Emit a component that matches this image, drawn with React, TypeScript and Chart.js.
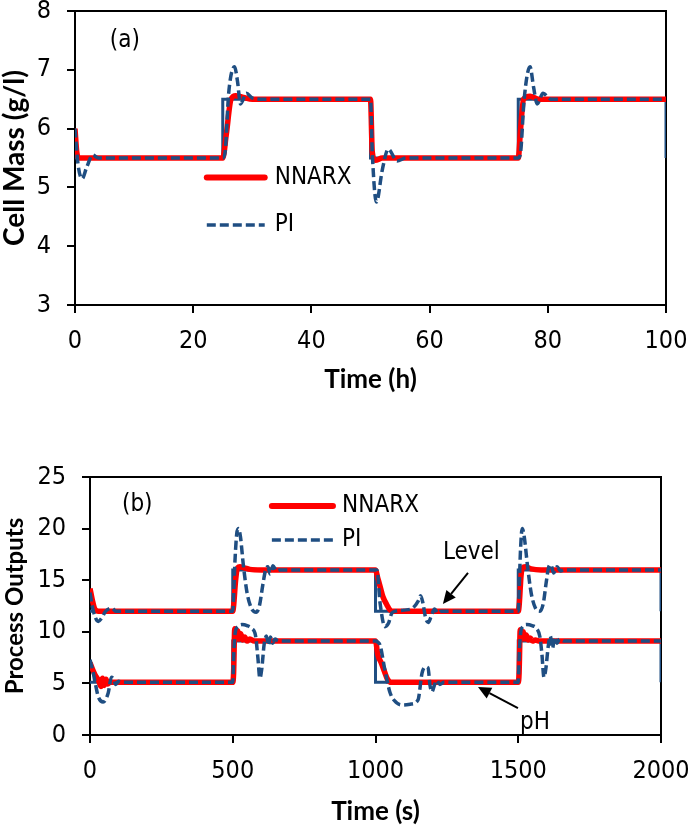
import React, { useEffect, useRef } from 'react';
import { Chart, registerables } from 'chart.js';

Chart.register(...registerables);

// ---------- Panel (a): cell mass vs time (h) ----------
const A_X_TICKS = [0, 20, 40, 60, 80, 100];
const A_Y_TICKS = [3, 4, 5, 6, 7, 8];

const A_SET_T = [0, 25, 25, 50, 50, 75, 75, 100, 100];
const A_SET_Y = [5.5, 5.5, 6.5, 6.5, 5.5, 5.5, 6.5, 6.5, 5.5];

const A_NNARX_T = [0, 0.3, 0.7, 25, 25.6, 26.4, 27.2, 28.5, 30, 50, 50.3, 50.8, 52, 75, 75.4, 75.9, 77, 78.5, 100];
const A_NNARX_Y = [6.0, 5.6, 5.5, 5.5, 5.9, 6.5, 6.56, 6.53, 6.5, 6.5, 5.6, 5.46, 5.5, 5.5, 6.0, 6.5, 6.55, 6.5, 6.5];

const A_PI_T = [0, 0.5, 1.2, 2, 3, 4, 25, 25.4, 26, 27, 27.5, 28, 29, 30, 32, 50, 50.3, 51, 52, 53, 54.5, 56, 75, 75.4, 76, 77, 77.6, 78.2, 79.2, 80.5, 100];
const A_PI_Y = [6.0, 5.4, 5.15, 5.35, 5.55, 5.5, 5.5, 5.6, 6.6, 7.05, 6.8, 6.42, 6.6, 6.52, 6.5, 6.5, 5.6, 4.75, 5.3, 5.65, 5.45, 5.5, 5.5, 5.6, 6.5, 7.05, 6.7, 6.42, 6.6, 6.5, 6.5];

// ---------- Panel (b): process outputs vs time (s) ----------
const B_X_TICKS = [0, 500, 1000, 1500, 2000];
const B_Y_TICKS = [0, 5, 10, 15, 20, 25];

const B_SET_T = [0, 500, 500, 1000, 1000, 1500, 1500, 2000, 2000];
const B_SET_LEVEL = [12, 12, 16, 16, 12, 12, 16, 16, 12];
const B_SET_PH = [5.1, 5.1, 9.1, 9.1, 5.1, 5.1, 9.1, 9.1, 5.1];

const B_NNARX_LEVEL_T = [0, 8, 17, 30, 500, 503, 510, 517, 525, 540, 560, 600, 1000, 1008, 1018, 1026, 1040, 1051, 1062, 1500, 1503, 1510, 1515, 1525, 1545, 1580, 2000];
const B_NNARX_LEVEL_Y = [14.2, 13.1, 12.2, 12, 12, 12.5, 15, 16.2, 16.3, 16.2, 16.05, 16, 16, 15.2, 14.2, 13.4, 12.6, 12.1, 12, 12, 12.5, 15.5, 16.2, 16.3, 16.1, 16, 16];

const B_NNARX_PH_T = [0, 10, 20, 30, 38, 44, 50, 56, 62, 70, 500, 503, 507, 512, 517, 522, 528, 535, 542, 550, 560, 575, 1000, 1008, 1020, 1032, 1042, 1055, 1500, 1503, 1507, 1512, 1517, 1522, 1528, 1535, 1542, 1550, 1560, 1575, 2000];
const B_NNARX_PH_Y = [7.0, 6.3, 5.7, 5.3, 4.7, 5.5, 4.8, 5.4, 4.95, 5.1, 5.1, 6.0, 10.3, 9.4, 10.1, 9.3, 9.8, 9.2, 9.5, 9.1, 9.3, 9.1, 9.1, 7.8, 7.0, 6.1, 5.4, 5.1, 5.1, 6.0, 10.2, 9.4, 10.0, 9.3, 9.7, 9.2, 9.4, 9.1, 9.2, 9.1, 9.1];

const B_PI_LEVEL_T = [0, 10, 29, 40, 55, 77, 90, 110, 500, 503, 508, 514, 520, 527, 537, 550, 565, 582, 594, 605, 615, 623, 631, 641, 653, 665, 1000, 1005, 1016, 1033, 1045, 1057, 1070, 1100, 1130, 1150, 1158, 1166, 1176, 1185, 1195, 1207, 1218, 1230, 1500, 1503, 1508, 1514, 1521, 1532, 1545, 1560, 1576, 1588, 1598, 1606, 1614, 1624, 1636, 1648, 1662, 2000];
const B_PI_LEVEL_Y = [13.8, 12.2, 11.0, 11.3, 12.0, 12.3, 12.0, 12.0, 12, 13.5, 17, 19.5, 20, 19.2, 16.5, 13.8, 12.3, 11.9, 12.6, 14.5, 16, 16.3, 15.6, 16.4, 15.9, 16, 16, 16, 12.8, 10.5, 10.8, 11.8, 12, 12.1, 12.3, 13.0, 13.5, 12.8, 11.3, 10.9, 11.5, 12.2, 11.8, 12, 12, 14, 18, 20, 19.2, 16.5, 13.8, 12.3, 12.0, 12.8, 14.8, 16.2, 16.5, 15.7, 16.3, 15.9, 16, 16];

const B_PI_PH_T = [0, 10, 20, 29, 46, 64, 75, 83, 90, 100, 115, 500, 503, 508, 518, 532, 550, 567, 580, 588, 595, 602, 610, 618, 625, 632, 640, 648, 660, 1000, 1008, 1016, 1033, 1051, 1075, 1097, 1125, 1149, 1163, 1175, 1184, 1191, 1198, 1206, 1215, 1225, 1240, 1500, 1503, 1508, 1516, 1530, 1548, 1565, 1576, 1583, 1590, 1597, 1605, 1612, 1620, 1628, 1636, 1645, 1660, 2000];
const B_PI_PH_Y = [7.3, 6.2, 4.8, 3.7, 3.2, 4.1, 5.6, 5.4, 4.9, 5.2, 5.1, 5.1, 7.5, 9.8, 10.5, 10.7, 10.6, 10.3, 9.6, 7.5, 5.5, 6.5, 8.8, 9.6, 8.7, 9.5, 8.9, 9.3, 9.1, 9.1, 9.0, 8.7, 6.3, 4.1, 3.1, 2.9, 3.0, 3.4, 6.0, 6.6, 6.5, 4.8, 4.2, 4.8, 5.3, 4.9, 5.1, 5.1, 7.5, 9.8, 10.5, 10.7, 10.6, 10.3, 9.5, 7.8, 5.6, 6.5, 8.6, 9.6, 8.4, 9.5, 8.9, 9.3, 9.1, 9.1];

// ---------- styling ----------
const FONT_NARROW = "'DejaVu Sans Condensed', 'DejaVu Sans', sans-serif";
const FONT_TITLE = "Lato, 'Liberation Sans', sans-serif";
const RED = '#ff0000';
const BLUE = '#1f4e82';
const PI_DASH = [9, 4];

function pts(t: number[], y: number[]) {
  return t.map((x, i) => ({ x, y: y[i] }));
}

function piDataset(t: number[], y: number[]) {
  return {
    data: pts(t, y), borderColor: BLUE, borderWidth: 3.5, borderDash: PI_DASH,
    pointRadius: 0, cubicInterpolationMode: 'monotone', fill: false,
  };
}
function nnarxDataset(t: number[], y: number[]) {
  return {
    data: pts(t, y), borderColor: RED, borderWidth: 5.5,
    pointRadius: 0, cubicInterpolationMode: 'monotone', fill: false,
  };
}
function setDataset(t: number[], y: number[]) {
  return { data: pts(t, y), borderColor: BLUE, borderWidth: 3, pointRadius: 0, tension: 0, fill: false };
}

type Note =
  | { kind: 'text'; x: number; y: number; text: string }
  | { kind: 'arrow'; x1: number; y1: number; x2: number; y2: number }
  | { kind: 'sample'; x1: number; x2: number; y: number; color: string; width: number; dash: number[] };

const framePlugin = {
  id: 'frame',
  beforeDatasetsDraw(chart: any) {
    const { ctx, chartArea: a } = chart;
    ctx.save();
    ctx.strokeStyle = '#000';
    ctx.lineWidth = 2;
    ctx.beginPath();
    ctx.moveTo(a.left, a.top);
    ctx.lineTo(a.right, a.top);
    ctx.lineTo(a.right, a.bottom);
    ctx.stroke();
    ctx.restore();
  },
};

const notesPlugin = {
  id: 'notes',
  afterDatasetsDraw(chart: any, _args: any, opts: any) {
    const { ctx } = chart;
    const xs = chart.scales.x;
    const ys = chart.scales.y;
    const px = (v: number) => xs.getPixelForValue(v);
    const py = (v: number) => ys.getPixelForValue(v);
    ctx.save();
    for (const n of (opts.items || []) as Note[]) {
      if (n.kind === 'text') {
        ctx.fillStyle = '#000';
        ctx.font = `24px ${FONT_NARROW}`;
        ctx.textAlign = 'left';
        ctx.textBaseline = 'middle';
        ctx.fillText(n.text, px(n.x), py(n.y));
      } else if (n.kind === 'sample') {
        ctx.strokeStyle = n.color;
        ctx.lineWidth = n.width;
        ctx.setLineDash(n.dash);
        ctx.lineCap = n.dash.length ? 'butt' : 'round';
        ctx.beginPath();
        ctx.moveTo(px(n.x1), py(n.y));
        ctx.lineTo(px(n.x2), py(n.y));
        ctx.stroke();
        ctx.setLineDash([]);
      } else if (n.kind === 'arrow') {
        const x1 = px(n.x1), y1 = py(n.y1), x2 = px(n.x2), y2 = py(n.y2);
        const ang = Math.atan2(y2 - y1, x2 - x1);
        const hl = 13, hw = 6;
        const bx = x2 - hl * Math.cos(ang), by = y2 - hl * Math.sin(ang);
        ctx.strokeStyle = '#000';
        ctx.fillStyle = '#000';
        ctx.lineWidth = 2;
        ctx.lineCap = 'butt';
        ctx.beginPath();
        ctx.moveTo(x1, y1);
        ctx.lineTo(bx, by);
        ctx.stroke();
        ctx.beginPath();
        ctx.moveTo(x2, y2);
        ctx.lineTo(bx + hw * Math.sin(ang), by - hw * Math.cos(ang));
        ctx.lineTo(bx - hw * Math.sin(ang), by + hw * Math.cos(ang));
        ctx.closePath();
        ctx.fill();
      }
    }
    ctx.restore();
  },
};

interface Panel {
  width: number; height: number;
  area: { left: number; right: number; top: number; bottom: number };
  xMin: number; xMax: number; xTicks: number[];
  yMin: number; yMax: number; yTicks: number[];
  xTitle: string; yTitle: string; xTitlePad: number; yTitlePad: number; yTitleSize: number;
  datasets: any[]; notes: Note[];
}

function makeConfig(p: Panel): any {
  const tickFont = { family: FONT_NARROW, size: 25 };
  const grid = { drawOnChartArea: false, drawTicks: true, tickLength: 8, color: '#000', lineWidth: 2 };
  const border = { display: true, color: '#000', width: 2 };
  return {
    type: 'line',
    data: { datasets: p.datasets },
    plugins: [framePlugin, notesPlugin],
    options: {
      responsive: false,
      animation: false,
      devicePixelRatio: 1,
      events: [],
      layout: { padding: { left: 0, top: p.area.top, right: p.width - p.area.right, bottom: 0 } },
      plugins: { legend: { display: false }, tooltip: { enabled: false }, notes: { items: p.notes } },
      scales: {
        x: {
          type: 'linear', min: p.xMin, max: p.xMax,
          afterBuildTicks: (s: any) => { s.ticks = p.xTicks.map((v) => ({ value: v })); },
          ticks: { font: tickFont, color: '#000', padding: 13, maxRotation: 0, autoSkip: false, callback: (v: any) => String(v) },
          grid, border,
          title: {
            display: true, text: p.xTitle, color: '#000',
            font: { family: FONT_TITLE, size: 26, weight: 'bold', lineHeight: 1 },
            padding: { top: 0, bottom: p.xTitlePad },
          },
          afterFit: (s: any) => { s.height = p.height - p.area.bottom; s.paddingLeft = 0; s.paddingRight = 0; },
        },
        y: {
          type: 'linear', min: p.yMin, max: p.yMax,
          afterBuildTicks: (s: any) => { s.ticks = p.yTicks.map((v) => ({ value: v })); },
          ticks: { font: tickFont, color: '#000', padding: 16, autoSkip: false, callback: (v: any) => String(v) },
          grid, border,
          title: {
            display: true, text: p.yTitle, color: '#000',
            font: { family: FONT_TITLE, size: p.yTitleSize, weight: 'bold', lineHeight: 1 },
            padding: { top: p.yTitlePad, bottom: 0 },
          },
          afterFit: (s: any) => { s.width = p.area.left; s.paddingTop = 0; s.paddingBottom = 0; },
        },
      },
    },
  };
}

const PANEL_A: Panel = {
  width: 688, height: 395,
  area: { left: 75, right: 666, top: 11, bottom: 305 },
  xMin: 0, xMax: 100, xTicks: A_X_TICKS,
  yMin: 3, yMax: 8, yTicks: A_Y_TICKS,
  xTitle: 'Time (h)', yTitle: 'Cell Mass (g/l)', xTitlePad: 2, yTitlePad: 1, yTitleSize: 28,
  datasets: [
    piDataset(A_PI_T, A_PI_Y),
    nnarxDataset(A_NNARX_T, A_NNARX_Y),
    setDataset(A_SET_T, A_SET_Y),
  ],
  notes: [
    { kind: 'text', x: 5.9, y: 7.49, text: '(a)' },
    { kind: 'sample', x1: 22.3, x2: 32.1, y: 5.17, color: RED, width: 6, dash: [] },
    { kind: 'text', x: 33.8, y: 5.17, text: 'NNARX' },
    { kind: 'sample', x1: 22.3, x2: 32.1, y: 4.36, color: BLUE, width: 3.5, dash: PI_DASH },
    { kind: 'text', x: 33.8, y: 4.36, text: 'PI' },
  ],
};

const PANEL_B: Panel = {
  width: 688, height: 431,
  area: { left: 90, right: 661, top: 82, bottom: 340 },
  xMin: 0, xMax: 2000, xTicks: B_X_TICKS,
  yMin: 0, yMax: 25, yTicks: B_Y_TICKS,
  xTitle: 'Time (s)', yTitle: 'Process Outputs', xTitlePad: 1, yTitlePad: 3, yTitleSize: 24,
  datasets: [
    piDataset(B_PI_LEVEL_T, B_PI_LEVEL_Y),
    piDataset(B_PI_PH_T, B_PI_PH_Y),
    nnarxDataset(B_NNARX_LEVEL_T, B_NNARX_LEVEL_Y),
    nnarxDataset(B_NNARX_PH_T, B_NNARX_PH_Y),
    setDataset(B_SET_T, B_SET_LEVEL),
    setDataset(B_SET_T, B_SET_PH),
  ],
  notes: [
    { kind: 'text', x: 112, y: 22.3, text: '(b)' },
    { kind: 'sample', x1: 637, x2: 851, y: 22.2, color: RED, width: 6, dash: [] },
    { kind: 'text', x: 883, y: 22.2, text: 'NNARX' },
    { kind: 'sample', x1: 637, x2: 851, y: 18.9, color: BLUE, width: 3.5, dash: PI_DASH },
    { kind: 'text', x: 883, y: 18.9, text: 'PI' },
    { kind: 'text', x: 1236, y: 17.7, text: 'Level' },
    { kind: 'arrow', x1: 1324, y1: 15.7, x2: 1236, y2: 12.7 },
    { kind: 'text', x: 1506, y: 1.16, text: 'pH' },
    { kind: 'arrow', x1: 1499, y1: 2.6, x2: 1359, y2: 4.65 },
  ],
};

function ChartCanvas({ panel, top }: { panel: Panel; top: number }) {
  const ref = useRef<HTMLCanvasElement | null>(null);
  useEffect(() => {
    if (!ref.current) return;
    const chart = new Chart(ref.current, makeConfig(panel));
    return () => chart.destroy();
  }, [panel]);
  return (
    <canvas
      ref={ref}
      width={panel.width}
      height={panel.height}
      style={{ position: 'absolute', left: 0, top, display: 'block', width: panel.width, height: panel.height }}
    />
  );
}

export default function App() {
  useEffect(() => {
    document.body.style.margin = '0';
    document.body.style.background = '#fff';
  }, []);
  return (
    <div style={{ position: 'relative', width: 688, height: 826, background: '#fff' }}>
      <ChartCanvas panel={PANEL_A} top={0} />
      <ChartCanvas panel={PANEL_B} top={395} />
    </div>
  );
}
